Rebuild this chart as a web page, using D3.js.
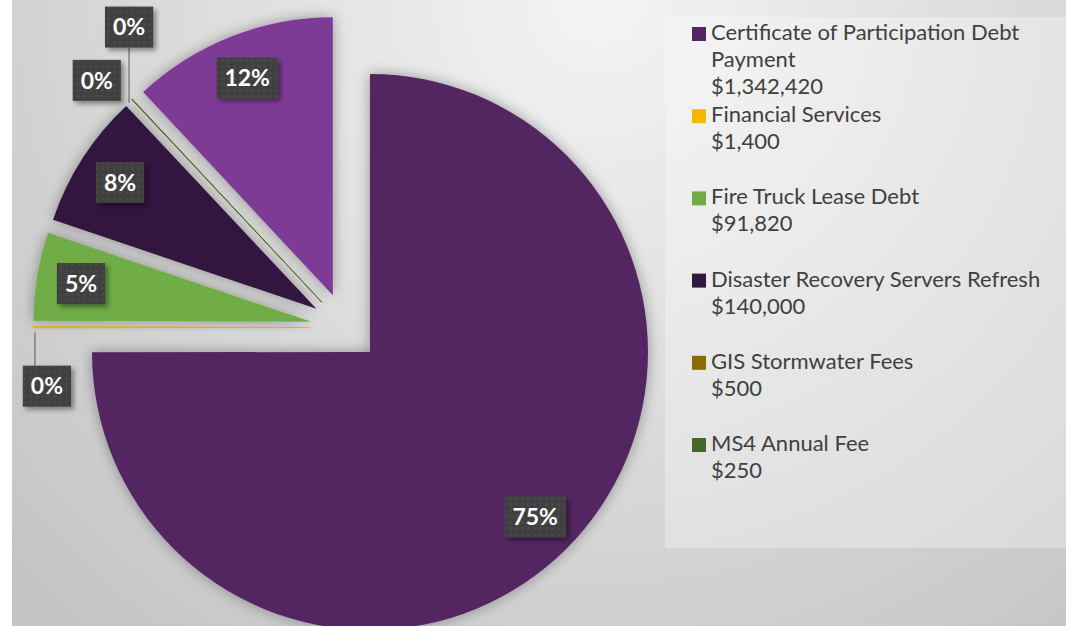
<!DOCTYPE html>
<html>
<head>
<meta charset="utf-8">
<script src="https://cdn.jsdelivr.net/npm/d3@7"></script>
<style>
  html, body { margin: 0; padding: 0; background: #ffffff; }
  svg { display: block; }
</style>
</head>
<body>
<svg id="chart" width="1066" height="627"></svg>
<script>

// chart data (slice order = clockwise from 12 o'clock)
var categories = ['Certificate of Participation Debt Payment', 'Financial Services', 'Fire Truck Lease Debt',
                  'Disaster Recovery Servers Refresh', 'GIS Stormwater Fees', 'MS4 Annual Fee', ''];
var amounts = [1342420, 1400, 91820, 140000, 500, 250, 214000];
var amount_labels = ['$1,342,420', '$1,400', '$91,820', '$140,000', '$500', '$250', ''];
var slice_colors = ['#532562', '#f2b900', '#70ad47', '#32173f', '#8c6c00', '#43682b', '#7e3b96'];


function draw_chart(){

  var width = 1066, height = 627;
  var cx = 345.5, cy = 327.5;
  var radius = 278;
  var explode = 34.6;

  var font = 'Lato, "Open Sans", sans-serif';
  var text_color = '#404040';

  var svg = d3.select('#chart');
  var defs = svg.append('defs');

  // background gradient
  var bg = defs.append('radialGradient')
    .attr('id', 'bg_grad')
    .attr('gradientUnits', 'userSpaceOnUse')
    .attr('cx', 600).attr('cy', 0).attr('r', 820);
  bg.append('stop').attr('offset', '0%').attr('stop-color', '#f4f4f4');
  bg.append('stop').attr('offset', '100%').attr('stop-color', '#c4c4c4');

  defs.append('clipPath').attr('id', 'plot_clip')
    .append('rect').attr('x', 12).attr('y', 0).attr('width', width - 12).attr('height', 626);

  // soft shadow round each slice
  var sf = defs.append('filter').attr('id', 'slice_shadow')
    .attr('x', '-30%').attr('y', '-30%').attr('width', '160%').attr('height', '160%');
  sf.append('feGaussianBlur').attr('in', 'SourceAlpha').attr('stdDeviation', 7).attr('result', 'blur');
  sf.append('feComponentTransfer').attr('in', 'blur').attr('result', 'shade')
    .append('feFuncA').attr('type', 'linear').attr('slope', 0.35);
  var sm = sf.append('feMerge');
  sm.append('feMergeNode').attr('in', 'shade');
  sm.append('feMergeNode').attr('in', 'SourceGraphic');

  // label box shadow
  defs.append('filter').attr('id', 'box_shadow')
    .attr('x', '-30%').attr('y', '-30%').attr('width', '170%').attr('height', '170%')
    .append('feDropShadow')
    .attr('dx', 3).attr('dy', 3).attr('stdDeviation', 2.5)
    .attr('flood-color', '#000').attr('flood-opacity', 0.4);

  // dotted fill for the data labels
  var dots = defs.append('pattern').attr('id', 'dots')
    .attr('patternUnits', 'userSpaceOnUse').attr('width', 6).attr('height', 6);
  dots.append('rect').attr('width', 6).attr('height', 6).attr('fill', '#404040');
  dots.append('rect').attr('x', 2).attr('y', 2).attr('width', 2).attr('height', 2).attr('fill', '#4e4e4e');

  svg.append('rect')
    .attr('x', 12).attr('y', 0)
    .attr('width', width - 12).attr('height', 626)
    .attr('fill', 'url(#bg_grad)');

  var total = d3.sum(amounts);
  var pct = d3.format('.0%');

  var pie = d3.pie().sort(null).value(function(d){ return d; });
  var arcs = pie(amounts);

  var arc = d3.arc().innerRadius(0).outerRadius(radius);
  var label_arc = d3.arc().innerRadius(radius * 0.84).outerRadius(radius * 0.84);

  function mid(d){ return (d.startAngle + d.endAngle) / 2; }
  function shift(d){
    var a = mid(d);
    return [Math.sin(a) * explode, -Math.cos(a) * explode];
  }

  var plot = svg.append('g').attr('clip-path', 'url(#plot_clip)');
  var pie_g = plot.append('g').attr('transform', 'translate(' + cx + ',' + cy + ')');

  pie_g.selectAll('.slice')
    .data(arcs)
    .enter()
    .append('path')
    .attr('class', 'slice')
    .attr('transform', function(d){ var s = shift(d); return 'translate(' + s[0] + ',' + s[1] + ')'; })
    .attr('d', arc)
    .attr('fill', function(d, i){ return slice_colors[i]; })
    .attr('stroke', function(d, i){ return slice_colors[i]; })
    .attr('stroke-width', function(d){ return d.value / total < 0.01 ? 0.6 : 0; })
    .attr('filter', 'url(#slice_shadow)');

  // outside labels for the tiny slices: nudge from the slice tip, optional leader line
  var callouts = {
    1: { dx: 14, dy: 59, line_x: -12 },
    4: { dx: -35, dy: -19 },
    5: { dx: -3, dy: -72, line_x: 0 }
  };

  var box_h = 41;
  var labels = pie_g.selectAll('.data_label')
    .data(arcs)
    .enter()
    .append('g')
    .attr('class', 'data_label');

  labels.each(function(d, i){
    var g = d3.select(this);
    var s = shift(d);
    var p, a = mid(d);
    var c = callouts[i];
    if(c){
      var tip = [s[0] + Math.sin(a) * radius, s[1] - Math.cos(a) * radius];
      p = [tip[0] + c.dx, tip[1] + c.dy];
      if(c.line_x !== undefined){
        var lx = p[0] + c.line_x;
        var y_end = c.dy > 0 ? p[1] - box_h / 2 : p[1] + box_h / 2;
        g.append('line')
          .attr('x1', lx).attr('y1', tip[1] + (c.dy > 0 ? 5 : 4))
          .attr('x2', lx).attr('y2', y_end)
          .attr('stroke', '#7f7f7f').attr('stroke-width', 1.5);
      }
    }else{
      var cen = label_arc.centroid(d);
      p = [cen[0] + s[0], cen[1] + s[1]];
    }

    var txt = g.append('text')
      .attr('x', p[0]).attr('y', p[1])
      .attr('dy', '0.36em')
      .attr('text-anchor', 'middle')
      .style('font', 'bold 23px ' + font)
      .attr('fill', '#ffffff')
      .text(pct(d.value / total));

    var w = txt.node().getComputedTextLength() + 16;
    g.insert('rect', 'text')
      .attr('x', p[0] - w / 2).attr('y', p[1] - box_h / 2)
      .attr('width', w).attr('height', box_h)
      .attr('fill', 'url(#dots)')
      .attr('filter', 'url(#box_shadow)');
  });

  // legend
  svg.append('rect')
    .attr('x', 665).attr('y', 17)
    .attr('width', width - 665).attr('height', 531)
    .attr('fill', '#ffffff').attr('fill-opacity', 0.3);

  var legend_x = 692, text_x = 711;
  var first_line = 40, entry_step = 82.2, line_h = 27;
  var legend_items = categories.filter(function(c){ return c !== ''; });

  var legend = svg.append('g').attr('class', 'legend');
  legend_items.forEach(function(name, i){
    var base = first_line + i * entry_step;
    legend.append('rect')
      .attr('x', legend_x).attr('y', base - 13)
      .attr('width', 14).attr('height', 14)
      .attr('fill', slice_colors[i]);

    var t = legend.append('text')
      .attr('x', text_x).attr('y', base)
      .style('font', '22px ' + font)
      .attr('fill', text_color);

    // wrap the name, then the amount on its own line
    var words = name.split(/\s+/), line = [], n = 0;
    var tspan = t.append('tspan').attr('x', text_x).attr('y', base);
    words.forEach(function(word){
      line.push(word);
      tspan.text(line.join(' '));
      if(tspan.node().getComputedTextLength() > 345 && line.length > 1){
        line.pop();
        tspan.text(line.join(' '));
        line = [word];
        n++;
        tspan = t.append('tspan').attr('x', text_x).attr('y', base + n * line_h).text(word);
      }
    });
    n++;
    t.append('tspan').attr('x', text_x).attr('y', base + n * line_h).text(amount_labels[i]);
  });
}

draw_chart();

</script>
</body>
</html>
